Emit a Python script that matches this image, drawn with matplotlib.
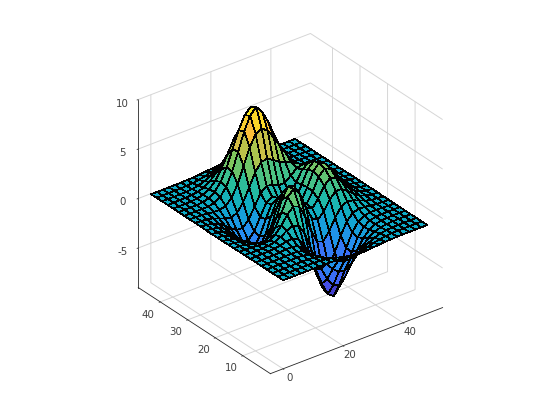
import numpy as np
import matplotlib
matplotlib.use("Agg")
import matplotlib.pyplot as plt
from matplotlib.colors import LinearSegmentedColormap

plt.rcParams["axes.unicode_minus"] = False

x_vals = [1, 3, 5, 7, 9, 11, 13, 15, 17, 19, 21, 23, 25, 27, 29, 31, 33, 35, 37, 39, 41, 43, 45, 47, 49]
y_vals = [1, 3, 5, 7, 9, 11, 13, 15, 17, 19, 21, 23, 25, 27, 29, 31, 33, 35, 37, 39, 41, 43, 45, 47, 49]

# alturas estimadas, una fila por cada y
z_rows = [
    [0, 0, 0, 0, 0, .01, 0, 0, -.03, -.08, -.14, -.2, -.25, -.25, -.22, -.17, -.11, -.06, -.03, -.01, 0, 0, 0, 0, 0],
    [0, 0, 0, 0, .01, .01, 0, -.02, -.1, -.22, -.39, -.56, -.68, -.69, -.61, -.46, -.3, -.17, -.08, -.03, -.01, 0, 0, 0, 0],
    [0, 0, 0, .01, .02, .02, 0, -.07, -.23, -.53, -.92, -1.31, -1.57, -1.6, -1.41, -1.06, -.69, -.38, -.19, -.08, -.03, -.01, 0, 0, 0],
    [0, 0, .01, .01, .03, .04, .01, -.12, -.44, -1.0, -1.74, -2.51, -3.02, -3.1, -2.72, -2.05, -1.32, -.74, -.35, -.14, -.05, -.01, 0, 0, 0],
    [0, 0, .01, .02, .05, .07, .05, -.13, -.59, -1.45, -2.64, -3.88, -4.76, -4.93, -4.35, -3.27, -2.1, -1.15, -.53, -.2, -.06, -.01, 0, 0, 0],
    [0, 0, .01, .03, .07, .13, .15, .02, -.46, -1.48, -3.01, -4.7, -5.98, -6.45, -5.64, -4.24, -2.69, -1.42, -.61, -.2, -.05, 0, .01, 0, 0],
    [0, 0, .01, .03, .08, .19, .33, .39, .15, -.68, -2.18, -4.07, -5.68, -6.5, -5.76, -4.31, -2.63, -1.27, -.44, -.07, .04, .05, .03, .01, 0],
    [0, -.01, -.01, -.01, .03, .17, .45, .84, 1.11, .88, -.14, -1.85, -3.61, -4.6, -4.4, -3.23, -1.74, -.56, .08, .27, .23, .13, .06, .02, .01],
    [-.01, -.03, -.06, -.1, -.13, -.04, .3, .98, 1.86, 2.45, 2.23, 1.0, -.72, -2.02, -2.22, -1.43, -.27, .58, .88, .77, .5, .26, .11, .04, .01],
    [-.02, -.05, -.12, -.25, -.42, -.51, -.28, .49, 1.78, 3.09, 3.63, 2.94, 1.4, 0, -.41, .2, 1.18, 1.79, 1.78, 1.35, .82, .41, .18, .06, .02],
    [-.03, -.08, -.2, -.44, -.8, -1.16, -1.21, -.6, .8, 2.49, 3.55, 3.31, 2.0, .7, .39, 1.14, 2.2, 2.76, 2.56, 1.88, 1.12, .56, .24, .09, .03],
    [-.03, -.1, -.27, -.6, -1.14, -1.78, -2.16, -1.84, -.56, 1.23, 2.56, 2.63, 1.58, .53, .48, 1.5, 2.76, 3.37, 3.09, 2.25, 1.34, .67, .28, .1, .03],
    [-.04, -.11, -.3, -.69, -1.33, -2.14, -2.77, -2.71, -1.65, .06, 1.48, 1.75, .98, .19, .38, 1.57, 2.94, 3.58, 3.27, 2.37, 1.41, .7, .3, .11, .03],
    [-.04, -.11, -.29, -.67, -1.32, -2.16, -2.87, -2.98, -2.15, -.65, .68, 1.06, .52, -.03, .28, 1.47, 2.76, 3.36, 3.06, 2.22, 1.32, .66, .28, .1, .03],
    [-.03, -.09, -.25, -.57, -1.12, -1.85, -2.49, -2.64, -2.0, -.76, .39, .8, .46, .09, .38, 1.34, 2.38, 2.83, 2.56, 1.85, 1.09, .54, .23, .08, .03],
    [-.02, -.07, -.18, -.42, -.81, -1.33, -1.76, -1.78, -1.16, -.05, 1.04, 1.55, 1.42, 1.12, 1.17, 1.65, 2.17, 2.32, 1.99, 1.4, .82, .4, .17, .06, .02],
    [-.01, -.04, -.11, -.25, -.48, -.74, -.86, -.6, .23, 1.51, 2.79, 3.59, 3.69, 3.34, 2.94, 2.66, 2.44, 2.08, 1.58, 1.04, .58, .28, .11, .04, .01],
    [-.01, -.02, -.06, -.12, -.2, -.22, -.05, .55, 1.7, 3.29, 4.92, 6.07, 6.39, 5.94, 5.02, 3.97, 2.97, 2.09, 1.35, .79, .41, .19, .07, .03, .01],
    [0, -.01, -.02, -.03, -.01, .11, .48, 1.27, 2.61, 4.37, 6.19, 7.54, 8.2, 7.48, 6.25, 4.72, 3.25, 2.05, 1.18, .62, .29, .12, .05, .02, 0],
    [0, 0, 0, .01, .07, .24, .65, 1.43, 2.67, 4.29, 5.96, 7.22, 7.85, 7.2, 5.99, 4.45, 2.96, 1.78, .96, .47, .21, .08, .03, .01, 0],
    [0, 0, 0, .02, .08, .23, .55, 1.16, 2.1, 3.31, 4.56, 5.51, 5.86, 5.5, 4.57, 3.37, 2.21, 1.29, .68, .32, .13, .05, .02, .01, 0],
    [0, 0, .01, .02, .06, .16, .36, .74, 1.32, 2.07, 2.84, 3.43, 3.65, 3.43, 2.84, 2.09, 1.36, .79, .41, .19, .08, .03, .01, 0, 0],
    [0, 0, 0, .01, .03, .08, .19, .39, .69, 1.07, 1.47, 1.77, 1.88, 1.77, 1.47, 1.08, .7, .4, .21, .09, .04, .01, 0, 0, 0],
    [0, 0, 0, .01, .01, .04, .08, .17, .3, .47, .64, .77, .82, .77, .64, .47, .3, .17, .09, .04, .02, .01, 0, 0, 0],
    [0, 0, 0, 0, .01, .01, .03, .06, .11, .17, .23, .28, .3, .28, .23, .17, .11, .06, .03, .01, .01, 0, 0, 0, 0],
]

x_ticks = [0, 20, 40]
y_ticks = [10, 20, 30, 40]
z_ticks = [-5, 0, 5, 10]

# mapa de color tipo parula
parula = LinearSegmentedColormap.from_list("parula", [
    (0.0, (0.24, 0.15, 0.66)), (0.15, (0.28, 0.36, 0.98)), (0.3, (0.15, 0.55, 0.95)),
    (0.445, (0.05, 0.67, 0.78)), (0.55, (0.15, 0.74, 0.62)), (0.7, (0.55, 0.78, 0.33)),
    (0.85, (0.98, 0.72, 0.24)), (1.0, (0.98, 0.96, 0.08))])

X, Y = np.meshgrid(x_vals, y_vals)
# la malla queda un poco por debajo del plano z=0 en la imagen
Z = np.array(z_rows) - 0.35

fig = plt.figure(figsize=(5.6, 4.2), dpi=100)
ax = fig.add_axes([103 / 560, 29 / 420, 365 / 560, 365 / 420], projection="3d")
ax.set_proj_type("ortho")
ax.view_init(elev=30, azim=-127.5)
ax.set_box_aspect((1, 1, 1))

ax.plot_surface(X, Y, Z, rstride=1, cstride=1, cmap=parula, vmin=-6.9, vmax=7.8,
                edgecolor="k", linewidth=0.5, shade=False, antialiased=False)

ax.set_xlim(-4.2, 53.2, view_margin=0)
ax.set_ylim(0, 48, view_margin=0)
ax.set_zlim(-9, 10, view_margin=0)
ax.set_xticks(x_ticks)
ax.set_yticks(y_ticks)
ax.set_zticks(z_ticks)

for axis in [ax.xaxis, ax.yaxis, ax.zaxis]:
    axis.pane.set_facecolor((1, 1, 1, 0))
    axis.pane.set_edgecolor((1, 1, 1, 0))
    axis.line.set_color("#262626")
    axis.line.set_linewidth(0.6)
    axis._axinfo["grid"].update(color="#d6d6d6", linewidth=0.7)
    axis._axinfo["tick"].update(inward_factor=0.08, outward_factor=0.0, linewidth={True: 0.6, False: 0.4})
ax.tick_params(labelsize=7.4, colors="#404040")
ax.tick_params(axis="x", pad=-1)
ax.tick_params(axis="y", pad=1.5)
ax.tick_params(axis="z", pad=-1)

# las etiquetas de x e y van algo mas arriba que en el centrado por defecto
for axis in [ax.xaxis, ax.yaxis]:
    for lab in axis.get_ticklabels():
        lab.set_va("bottom")

fig.savefig("out.png", dpi=100)
